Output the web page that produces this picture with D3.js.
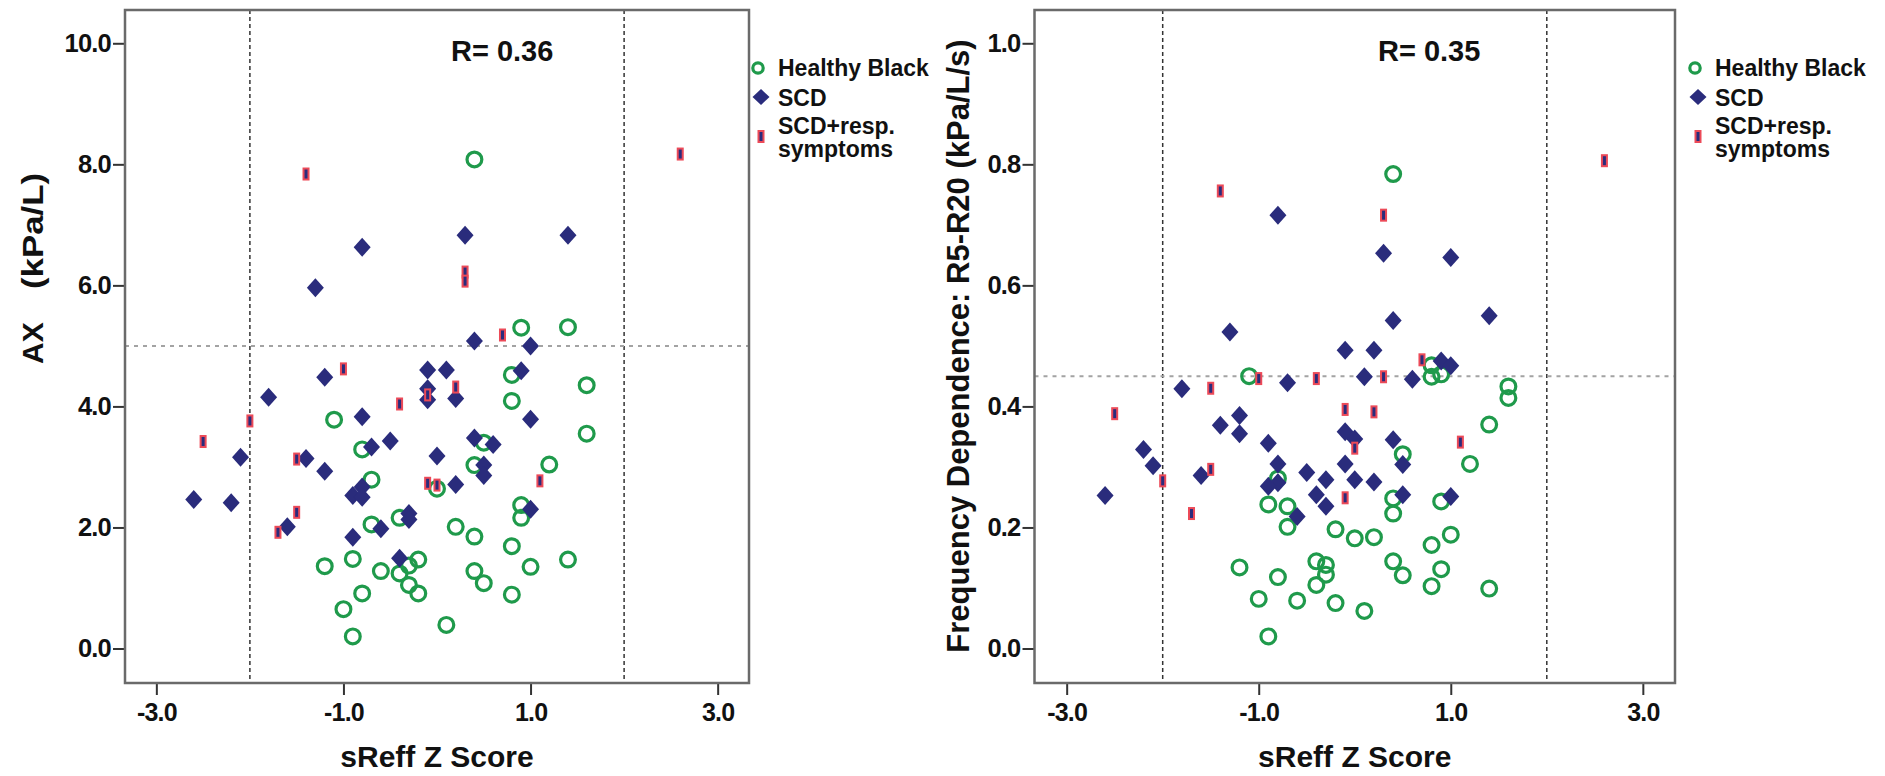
<!DOCTYPE html>
<html>
<head>
<meta charset="utf-8">
<script src="https://cdn.jsdelivr.net/npm/d3@7"></script>
<style>
  html, body { margin: 0; padding: 0; background: #fff; }
  svg { display: block; font-family: "Liberation Sans", Arial, sans-serif; }
</style>
</head>
<body>
<svg id="chart" width="1885" height="776"></svg>
<script>
// ---------------- DATA ----------------
const xTicks = [-3, -1, 1, 3];
const yTicksAX = [0, 2, 4, 6, 8, 10];
const yTicksFD = [0, 0.2, 0.4, 0.6, 0.8, 1.0];
const xRefLines = [-2, 2];
const yRefAX = 5.0;
const yRefFD = 0.45;
const rAX = "R= 0.36";
const rFD = "R= 0.35";
const legendLabels = ["Healthy Black", "SCD", "SCD+resp.", "symptoms"];

// [sReff Z score, AX]
const healthyAX = [
  [0.4, 8.08], [0.9, 5.30], [1.4, 5.31], [0.8, 4.52], [1.6, 4.35], [0.8, 4.09],
  [-1.1, 3.78], [1.6, 3.55], [0.5, 3.40], [-0.8, 3.29], [0.4, 3.03], [1.2, 3.04],
  [-0.7, 2.79], [0.0, 2.64], [0.9, 2.37], [0.9, 2.16], [-0.4, 2.16], [-0.7, 2.05],
  [0.2, 2.01], [0.4, 1.85], [0.8, 1.69], [-0.9, 1.48], [-0.2, 1.47], [1.4, 1.47],
  [-1.2, 1.36], [-0.3, 1.37], [-0.6, 1.28], [0.4, 1.28], [1.0, 1.35], [-0.4, 1.24],
  [0.5, 1.08], [-0.3, 1.05], [-0.8, 0.91], [-0.2, 0.91], [0.8, 0.89], [-1.0, 0.65],
  [0.1, 0.39], [-0.9, 0.20]
];
const scdAX = [
  [1.4, 6.83], [0.3, 6.83], [-0.8, 6.63], [-1.3, 5.96], [0.4, 5.08], [1.0, 5.00],
  [-1.2, 4.48], [-0.1, 4.60], [0.1, 4.60], [0.9, 4.59], [-0.1, 4.29], [-0.1, 4.11],
  [-1.8, 4.15], [0.2, 4.13], [-0.8, 3.83], [1.0, 3.79], [-0.5, 3.43], [0.4, 3.48],
  [0.6, 3.37], [-0.7, 3.33], [-2.1, 3.16], [-1.4, 3.14], [0.0, 3.18], [-1.2, 2.93],
  [0.5, 3.03], [0.5, 2.86], [0.2, 2.71], [-0.9, 2.53], [-0.8, 2.67], [-0.8, 2.50],
  [-2.6, 2.46], [-2.2, 2.41], [1.0, 2.30], [-0.3, 2.23], [-0.3, 2.13], [-0.6, 1.98],
  [-1.6, 2.01], [-0.9, 1.84], [-0.4, 1.49]
];
const scdRespAX = [
  [-1.4, 7.84], [2.6, 8.17], [0.3, 6.22], [0.3, 6.07], [0.7, 5.18], [-1.0, 4.62],
  [0.2, 4.32], [-0.1, 4.19], [-0.4, 4.04], [-2.0, 3.76], [-2.5, 3.42], [-1.5, 3.13],
  [1.1, 2.77], [-0.1, 2.73], [0.0, 2.70], [-1.5, 2.25], [-1.7, 1.92]
];

// [sReff Z score, Frequency dependence R5-R20]
const healthyFD = [
  [0.4, 0.784], [0.8, 0.468], [0.8, 0.449], [0.9, 0.453], [-1.1, 0.450], [1.6, 0.433],
  [1.6, 0.414], [1.4, 0.370], [0.5, 0.321], [1.2, 0.305], [-0.8, 0.281], [0.4, 0.248],
  [0.9, 0.243], [-0.9, 0.238], [-0.7, 0.235], [0.4, 0.223], [-0.7, 0.201], [-0.2, 0.197],
  [0.0, 0.182], [0.2, 0.184], [1.0, 0.188], [0.8, 0.171], [-1.2, 0.134], [-0.4, 0.144],
  [-0.3, 0.138], [0.4, 0.144], [0.9, 0.131], [-0.8, 0.118], [-0.3, 0.122], [0.5, 0.121],
  [-0.4, 0.105], [0.8, 0.103], [1.4, 0.099], [-1.0, 0.082], [-0.6, 0.079], [-0.2, 0.075],
  [0.1, 0.062], [-0.9, 0.020]
];
const scdFD = [
  [-0.8, 0.716], [0.3, 0.653], [1.0, 0.646], [0.4, 0.542], [1.4, 0.550], [-1.3, 0.523],
  [-0.1, 0.493], [0.2, 0.493], [0.9, 0.475], [1.0, 0.467], [-0.7, 0.439], [0.1, 0.449],
  [0.6, 0.445], [-1.8, 0.429], [-1.2, 0.385], [-1.4, 0.369], [-1.2, 0.355], [-0.1, 0.358],
  [0.0, 0.346], [0.4, 0.345], [-0.9, 0.339], [-2.2, 0.329], [-2.1, 0.302], [-0.8, 0.305],
  [-0.1, 0.305], [0.5, 0.304], [-0.5, 0.291], [-1.6, 0.286], [-0.8, 0.274], [-0.9, 0.268],
  [-0.3, 0.279], [0.0, 0.279], [0.2, 0.275], [-2.6, 0.253], [-0.4, 0.254], [0.5, 0.254],
  [1.0, 0.251], [-0.3, 0.235], [-0.6, 0.218]
];
const scdRespFD = [
  [2.6, 0.806], [-1.4, 0.756], [0.3, 0.716], [0.7, 0.477], [-1.0, 0.446], [-0.4, 0.446],
  [0.3, 0.449], [-1.5, 0.430], [-2.5, 0.388], [-0.1, 0.395], [0.2, 0.391], [1.1, 0.341],
  [0.0, 0.331], [-1.5, 0.296], [-2.0, 0.277], [-0.1, 0.249], [-1.7, 0.223]
];

// ---------------- STYLE / LAYOUT ----------------
const GREEN = "#1f9a4b";
const NAVY = "#2a2c7c";
const RED = "#ec4a58";
const FRAME = "#6a6a6a";
const FONT = "'Liberation Sans', Arial, sans-serif";

const svg = d3.select("#chart");
svg.append("rect").attr("width", 1885).attr("height", 776).attr("fill", "#fff");

const diamondPath = "M0,-9.5L8.5,0L0,9.5L-8.5,0Z";

function panel(cfg) {
  const x = d3.scaleLinear().domain([-3.335, 3.335]).range([cfg.x0, cfg.x1]);
  const y = d3.scaleLinear().domain(cfg.yDomain).range([cfg.y1, cfg.y0]);
  const g = svg.append("g");

  // reference lines
  g.selectAll("line.vref").data(xRefLines).join("line")
    .attr("x1", d => x(d)).attr("x2", d => x(d))
    .attr("y1", cfg.y0).attr("y2", cfg.y1)
    .attr("stroke", "#333").attr("stroke-width", 1.5)
    .attr("stroke-dasharray", "4,3");
  g.append("line")
    .attr("x1", cfg.x0).attr("x2", cfg.x1)
    .attr("y1", y(cfg.yRef)).attr("y2", y(cfg.yRef))
    .attr("stroke", "#a3a3a3").attr("stroke-width", 2)
    .attr("stroke-dasharray", "4,5");

  // axes
  const yAxis = d3.axisLeft(y).tickValues(cfg.yTicks)
    .tickFormat(d => d.toFixed(1)).tickSize(12).tickPadding(2).tickSizeOuter(0);
  const ya = g.append("g").attr("transform", `translate(${cfg.x0},0)`).call(yAxis);
  ya.select(".domain").remove();
  ya.selectAll(".tick line").attr("stroke", "#333").attr("stroke-width", 2);
  ya.selectAll(".tick text").attr("font-family", FONT).attr("font-size", 25.5)
    .attr("letter-spacing", -0.8)
    .attr("font-weight", "bold").attr("fill", "#111");

  const xAxis = d3.axisBottom(x).tickValues(xTicks)
    .tickFormat(d => d.toFixed(1)).tickSize(12).tickPadding(8).tickSizeOuter(0);
  const xa = g.append("g").attr("transform", `translate(0,${cfg.y1})`).call(xAxis);
  xa.select(".domain").remove();
  xa.selectAll(".tick line").attr("stroke", "#333").attr("stroke-width", 2);
  xa.selectAll(".tick text").attr("font-family", FONT).attr("font-size", 25)
    .attr("letter-spacing", -0.8)
    .attr("font-weight", "bold").attr("fill", "#111");

  // frame
  g.append("rect")
    .attr("x", cfg.x0).attr("y", cfg.y0)
    .attr("width", cfg.x1 - cfg.x0).attr("height", cfg.y1 - cfg.y0)
    .attr("fill", "none").attr("stroke", FRAME).attr("stroke-width", 2.5);

  // points
  g.selectAll("circle.h").data(cfg.healthy).join("circle")
    .attr("cx", d => x(d[0])).attr("cy", d => y(d[1])).attr("r", 7.4)
    .attr("fill", "none").attr("stroke", GREEN).attr("stroke-width", 3.2);
  g.selectAll("path.s").data(cfg.scd).join("path")
    .attr("d", diamondPath)
    .attr("transform", d => `translate(${x(d[0])},${y(d[1])})`)
    .attr("fill", NAVY);
  g.selectAll("rect.r").data(cfg.resp).join("rect")
    .attr("x", d => x(d[0]) - 2.5).attr("y", d => y(d[1]) - 5.5)
    .attr("width", 5).attr("height", 11)
    .attr("fill", NAVY).attr("stroke", RED).attr("stroke-width", 2);

  // R text
  g.append("text").attr("x", cfg.rx).attr("y", 61)
    .attr("font-family", FONT).attr("font-size", 29).attr("font-weight", "bold")
    .attr("fill", "#111").text(cfg.rText);

  // x title
  g.append("text").attr("x", (cfg.x0 + cfg.x1) / 2).attr("y", 767)
    .attr("text-anchor", "middle")
    .attr("font-family", FONT).attr("font-size", 30).attr("font-weight", "bold")
    .attr("fill", "#111").text("sReff Z Score");

  // legend
  const lg = g.append("g");
  lg.append("circle").attr("cx", cfg.lx - 20).attr("cy", 68).attr("r", 5.2)
    .attr("fill", "none").attr("stroke", GREEN).attr("stroke-width", 3.2);
  lg.append("path").attr("d", "M0,-8L8.5,0L0,8L-8.5,0Z")
    .attr("transform", `translate(${cfg.lx - 17},97)`).attr("fill", NAVY);
  lg.append("rect").attr("x", cfg.lx - 19.5).attr("y", 131).attr("width", 5).attr("height", 11)
    .attr("fill", NAVY).attr("stroke", RED).attr("stroke-width", 2);
  const lys = [76, 106, 134, 157];
  lg.selectAll("text").data(legendLabels).join("text")
    .attr("x", cfg.lx).attr("y", (d, i) => lys[i])
    .attr("font-family", FONT).attr("font-size", 23).attr("font-weight", "bold")
    .attr("fill", "#111").text(d => d);
  return g;
}

panel({
  x0: 125, x1: 749, y0: 10, y1: 683,
  yDomain: [-0.57, 10.55], yTicks: yTicksAX, yRef: yRefAX,
  healthy: healthyAX, scd: scdAX, resp: scdRespAX,
  rText: rAX, rx: 451, lx: 778
});
panel({
  x0: 1034.5, x1: 1675, y0: 10, y1: 683,
  yDomain: [-0.057, 1.055], yTicks: yTicksFD, yRef: yRefFD,
  healthy: healthyFD, scd: scdFD, resp: scdRespFD,
  rText: rFD, rx: 1378, lx: 1715
});

// y titles
svg.append("text").attr("transform", "translate(43,364) rotate(-90)")
  .attr("font-family", FONT).attr("font-size", 30).attr("font-weight", "bold")
  .attr("fill", "#111").text("AX");
svg.append("text").attr("transform", "translate(43,289) rotate(-90)")
  .attr("font-family", FONT).attr("font-size", 30).attr("font-weight", "bold")
  .attr("textLength", 116).attr("lengthAdjust", "spacingAndGlyphs")
  .attr("fill", "#111").text("(kPa/L)");
svg.append("text").attr("transform", "translate(969,346) rotate(-90)")
  .attr("text-anchor", "middle")
  .attr("font-family", FONT).attr("font-size", 31).attr("font-weight", "bold")
  .attr("fill", "#111").text("Frequency Dependence: R5-R20 (kPa/L/s)");
</script>
</body>
</html>
